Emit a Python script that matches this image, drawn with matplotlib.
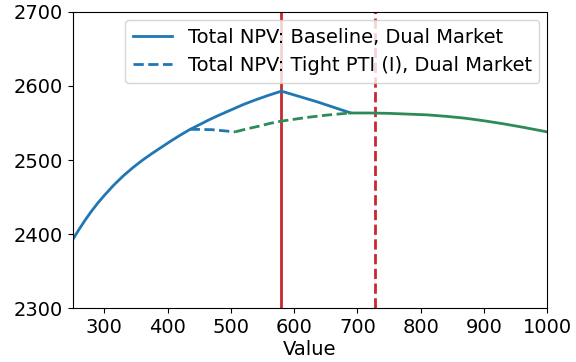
import matplotlib
matplotlib.use("Agg")
import matplotlib.pyplot as plt

# Baseline total NPV across the parameter value
base_x = [250, 260, 270, 280, 290, 300, 315, 330, 345, 360, 375, 390, 405, 420, 435,
          450, 465, 480, 500, 520, 540, 560, 580, 635, 688]
base_y = [2392, 2406, 2419, 2431, 2442, 2452, 2466, 2478.5, 2489.5, 2499.5, 2508.5, 2517,
          2525.5, 2533.5, 2541, 2547.5, 2554, 2560, 2567.5, 2575, 2581.5, 2587.5, 2593,
          2579, 2564]

# Tight PTI (I): where it departs from the baseline
tight_x = [435, 470, 507]
tight_y = [2541.5, 2541, 2538]

# Shared segment (constraint region) shown in green
green_dash_x = [507, 525, 546, 562, 580, 600, 620, 650, 688]
green_dash_y = [2538, 2542, 2546, 2549.5, 2552.5, 2555, 2557.5, 2560.5, 2563.5]
green_solid_x = [688, 720, 750, 780, 810, 840, 870, 900, 930, 960, 1000]
green_solid_y = [2563.5, 2563.5, 2563, 2562, 2561, 2559, 2556.5, 2553, 2549, 2544.5, 2538]

optimum_base = 580
optimum_tight = 728

plt.rcParams['font.size'] = 14

fig, ax = plt.subplots(figsize=(5.76, 3.62), dpi=100)
fig.subplots_adjust(left=0.126, right=0.950, top=0.967, bottom=0.149)

ax.axvline(optimum_base, color='#c8282e', linewidth=2)
ax.axvline(optimum_tight, color='#c8282e', linewidth=2, linestyle='--')

ax.plot(base_x, base_y, color='tab:blue', linewidth=2, label='Total NPV: Baseline, Dual Market')
ax.plot(tight_x, tight_y, color='tab:blue', linewidth=2, linestyle='--',
        label='Total NPV: Tight PTI (I), Dual Market')
ax.plot(green_dash_x, green_dash_y, color='#2e8b57', linewidth=2, linestyle='--')
ax.plot(green_solid_x, green_solid_y, color='#2e8b57', linewidth=2)

ax.set_xlim(250, 1000)
ax.set_ylim(2300, 2700)
ax.set_xticks(range(300, 1001, 100))
ax.set_yticks(range(2300, 2701, 100))
ax.set_xlabel('Value', labelpad=2)
ax.legend(loc='upper right', borderaxespad=0.4)

fig.savefig('out.png', dpi=100)
